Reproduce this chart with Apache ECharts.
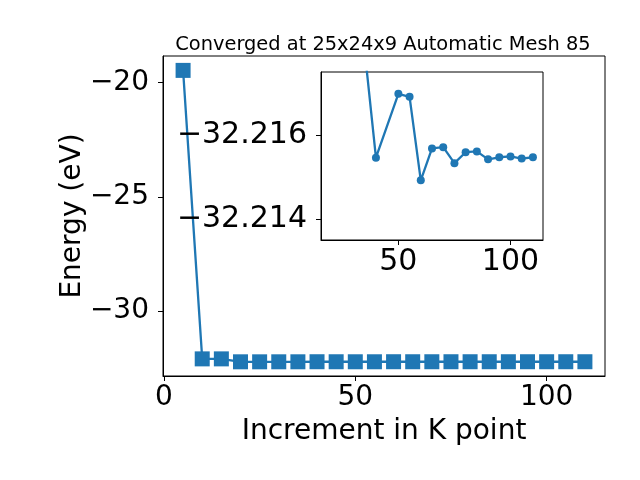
<!DOCTYPE html>
<html>
<head>
<meta charset="utf-8">
<script src="https://cdn.jsdelivr.net/npm/echarts@6/dist/echarts.min.js"></script>
<style>html,body{margin:0;padding:0;background:#fff}#c{width:640px;height:480px}</style>
</head>
<body>
<div id="c"></div>
<script>
var titleText = 'Converged at 25x24x9 Automatic Mesh 85';
var xTitle = 'Increment in K point';
var yTitle = 'Energy (eV)';

// main plot data
var kPoints = [5,10,15,20,25,30,35,40,45,50,55,60,65,70,75,80,85,90,95,100,105,110];
var energy = [-19.46,-32.09,-32.09,-32.2185,-32.2190,-32.2183,-32.2180,-32.21546,-32.2160,-32.21698,-32.21691,-32.21492,-32.21568,-32.21571,-32.21533,-32.21559,-32.21561,-32.21542,-32.21547,-32.21549,-32.21544,-32.21547];

// inset data
var insetK = [20,25,30,35,40,50,55,60,65,70,75,80,85,90,95,100,105,110];
var insetEnergy = [-32.2185,-32.2190,-32.2183,-32.2180,-32.21546,-32.21698,-32.21691,-32.21492,-32.21568,-32.21571,-32.21533,-32.21559,-32.21561,-32.21542,-32.21547,-32.21549,-32.21544,-32.21547];

var mainXTicks = [0,50,100];
var mainYTicks = [-30,-25,-20];
var insetXTicks = [50,100];
var insetYTicks = [-32.216,-32.214];

function pairs(xs, ys){ return xs.map(function(x,i){ return [x, ys[i]]; }); }
function minus(s){ return String(s).replace('-', '\u2212'); }

var FONT = 'DejaVu Sans';
var C = '#1f77b4';
var lbl = {color:'#000', fontFamily:FONT, fontSize:28};
var lblIn = {color:'#000', fontFamily:FONT, fontSize:30};

var chart = echarts.init(document.getElementById('c'), null, {renderer:'canvas'});
chart.setOption({
  animation:false,
  backgroundColor:'#fff',
  title:{text:titleText, left:378, top:30, textAlign:'center',
    textStyle:{fontFamily:FONT, fontSize:19.4, fontWeight:'normal', color:'#000'}},
  grid:[
    {left:163, top:56, width:442, height:320, show:true, borderColor:'#000', borderWidth:1, backgroundColor:'#fff'},
    {left:321, top:72, width:222, height:168, show:true, borderColor:'#000', borderWidth:1, backgroundColor:'#fff', z:5}
  ],
  xAxis:[
    {type:'value', gridIndex:0, min:-0.25, max:115.25,
     name:xTitle, nameLocation:'middle', nameGap:42, nameMoveOverlap:false,
     nameTextStyle:{fontFamily:FONT, fontSize:28, color:'#000'},
     axisLine:{show:true, onZero:false, lineStyle:{color:'#000', width:1}},
     axisTick:{show:true, customValues:mainXTicks, length:5, lineStyle:{color:'#000'}},
     axisLabel:Object.assign({customValues:mainXTicks, margin:8, formatter:function(v){return minus(v);}}, lbl),
     splitLine:{show:false}},
    {type:'value', gridIndex:1, min:15.5, max:114.5, z:6,
     axisLine:{show:true, onZero:false, lineStyle:{color:'#000', width:1}},
     axisTick:{show:true, customValues:insetXTicks, length:5, lineStyle:{color:'#000'}},
     axisLabel:Object.assign({customValues:insetXTicks, margin:7, formatter:function(v){return minus(v);}}, lblIn),
     splitLine:{show:false}}
  ],
  yAxis:[
    {type:'value', gridIndex:0, min:-32.84, max:-18.83,
     name:yTitle, nameLocation:'middle', nameGap:76, nameRotate:90, nameMoveOverlap:false,
     nameTextStyle:{fontFamily:FONT, fontSize:28, color:'#000'},
     axisLine:{show:true, onZero:false, lineStyle:{color:'#000', width:1}},
     axisTick:{show:true, customValues:mainYTicks, length:5, lineStyle:{color:'#000'}},
     axisLabel:Object.assign({customValues:mainYTicks, margin:14, formatter:function(v){return minus(v);}}, lbl),
     splitLine:{show:false}},
    {type:'value', gridIndex:1, min:-32.2175, max:-32.2135, inverse:true, z:6,
     axisLine:{show:true, onZero:false, lineStyle:{color:'#000', width:1}},
     axisTick:{show:true, customValues:insetYTicks, length:5, lineStyle:{color:'#000'}},
     axisLabel:Object.assign({customValues:insetYTicks, margin:14, formatter:function(v){return minus(v.toFixed(3));}}, lblIn),
     splitLine:{show:false}}
  ],
  series:[
    {type:'line', xAxisIndex:0, yAxisIndex:0, data:pairs(kPoints, energy),
     symbol:'rect', symbolSize:15, showAllSymbol:true,
     lineStyle:{color:C, width:2.3}, itemStyle:{color:C}, z:2},
    {type:'line', xAxisIndex:1, yAxisIndex:1, data:pairs(insetK, insetEnergy),
     symbol:'circle', symbolSize:8, showAllSymbol:true, clip:true,
     lineStyle:{color:C, width:2.3}, itemStyle:{color:C}, z:7}
  ]
});
</script>
</body>
</html>
